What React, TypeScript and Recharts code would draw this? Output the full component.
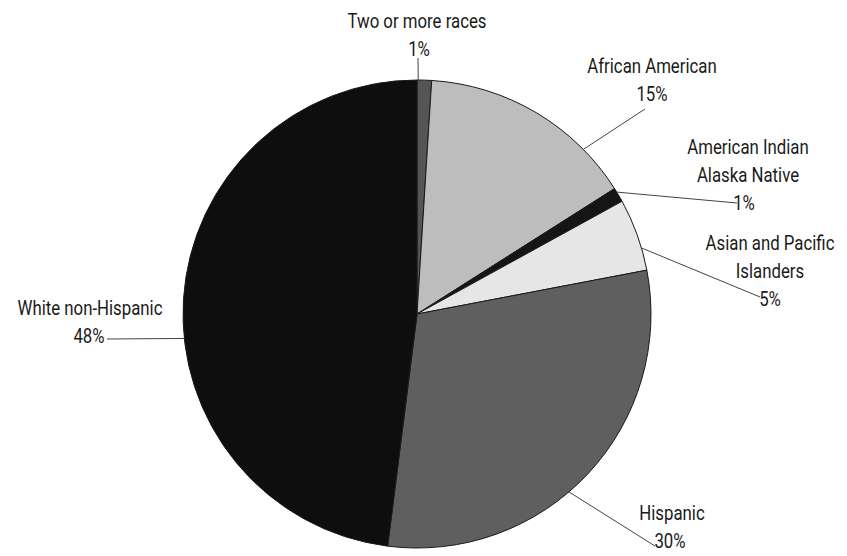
import { PieChart, Pie, Cell } from 'recharts'

const groups = [
  'Two or more races',
  'African American',
  'American Indian Alaska Native',
  'Asian and Pacific Islanders',
  'Hispanic',
  'White non-Hispanic',
]
const shares = [1, 15, 1, 5, 30, 48]
const fills = ['#555555', '#bdbdbd', '#151515', '#e6e6e6', '#5f5f5f', '#0e0e0e']

const data = groups.map((name, i) => ({ name, value: shares[i] }))

// where each leader line leaves the pie (degrees clockwise from 12 o'clock),
// where it ends, and where the label text sits (first baseline)
const layout: Record<string, { angle: number; end: [number, number]; lines: string[]; x: number[]; y: number }> = {
  'Two or more races': { angle: 0.3, end: [418, 58], lines: ['Two or more races', '1%'], x: [417, 419], y: 28 },
  'African American': { angle: 45.3, end: [645, 109], lines: ['African American', '15%'], x: [652, 652], y: 73 },
  'American Indian Alaska Native': { angle: 58.6, end: [737, 203], lines: ['American Indian', 'Alaska Native', '1%'], x: [748, 748, 744], y: 154 },
  'Asian and Pacific Islanders': { angle: 73.6, end: [760, 297], lines: ['Asian and Pacific', 'Islanders', '5%'], x: [770, 770, 770], y: 250 },
  'Hispanic': { angle: 139.5, end: [655, 546], lines: ['Hispanic', '30%'], x: [672, 670], y: 520 },
  'White non-Hispanic': { angle: 264, end: [107, 339], lines: ['White non-Hispanic', '48%'], x: [90, 89], y: 315 },
}

const FONT = 'Roboto, "Noto Sans", sans-serif'

function renderLabel(props: any) {
  const { cx, cy, outerRadius, name } = props
  const l = layout[name]
  if (!l) return null
  const rad = (l.angle * Math.PI) / 180
  const sx = cx + outerRadius * Math.sin(rad)
  const sy = cy - outerRadius * Math.cos(rad)
  return (
    <g>
      <line x1={sx} y1={sy} x2={l.end[0]} y2={l.end[1]} stroke="#444" strokeWidth={1} />
      {l.lines.map((t, i) => (
        <text
          key={i}
          transform={`translate(${l.x[i]},${l.y + i * 28}) scale(0.8,1)`}
          x={0}
          y={0}
          textAnchor="middle"
          fill="#1a1a1a"
          fontSize={21}
          fontFamily={FONT}
        >
          {t}
        </text>
      ))}
    </g>
  )
}

export default function App() {
  return (
    <div style={{ width: 847, height: 556, background: '#fff' }}>
      <style>{'body{margin:0}'}</style>
      <PieChart width={847} height={556} margin={{ top: 0, right: 0, bottom: 0, left: 0 }}>
        <Pie
          data={data}
          dataKey="value"
          nameKey="name"
          cx={417}
          cy={314}
          outerRadius={234}
          startAngle={90}
          endAngle={-270}
          stroke="#1a1a1a"
          strokeWidth={1}
          label={renderLabel}
          labelLine={false}
          isAnimationActive={false}
        >
          {data.map((d, i) => (
            <Cell key={d.name} fill={fills[i]} />
          ))}
        </Pie>
      </PieChart>
    </div>
  )
}
